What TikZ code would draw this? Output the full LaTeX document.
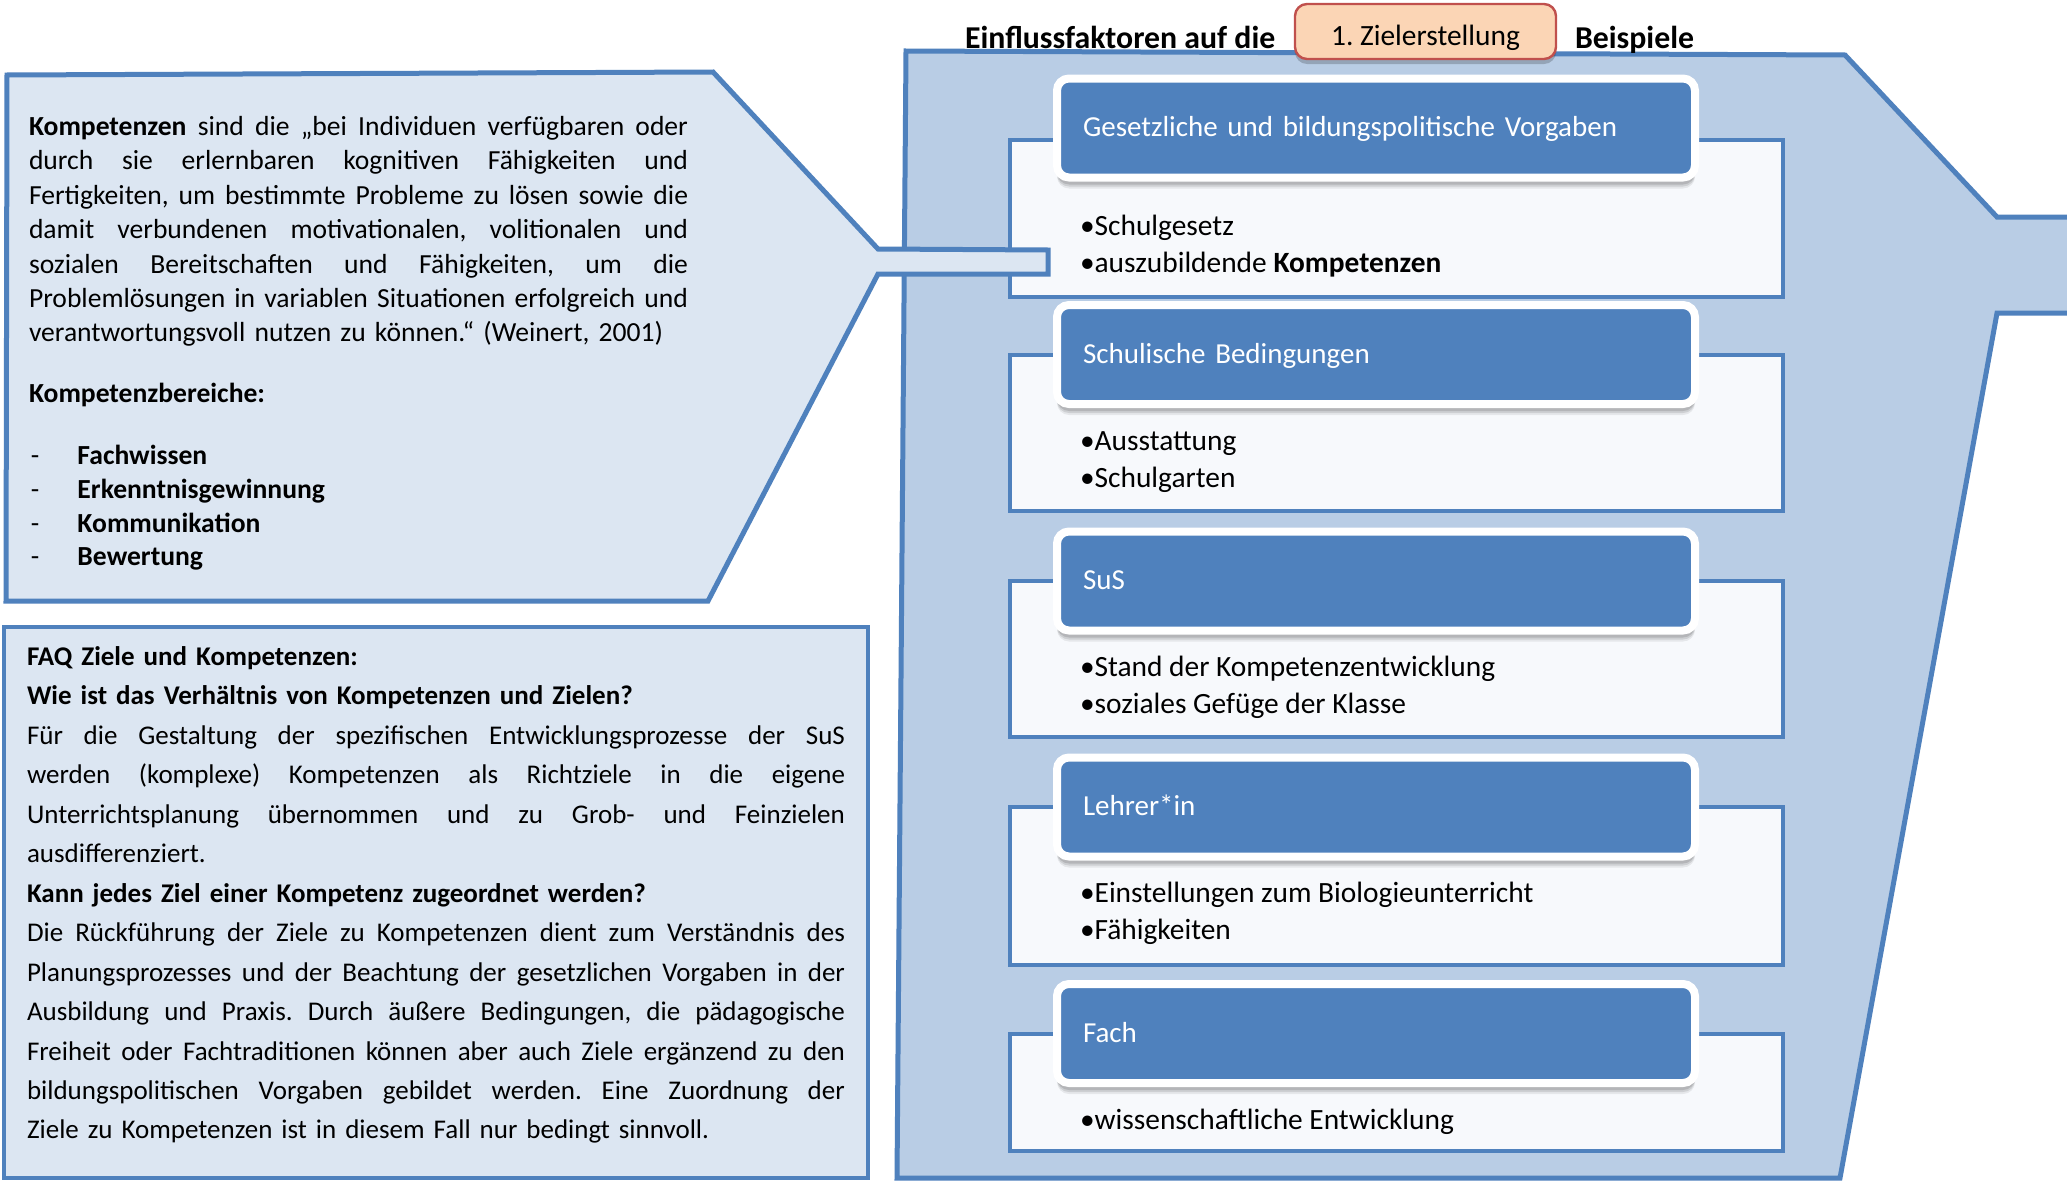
\documentclass[tikz,border=0pt]{standalone}
\usepackage{fontspec}
\setmainfont{Carlito}
\usetikzlibrary{shadows}
\definecolor{funnelfill}{HTML}{B9CDE5}
\definecolor{edgeblue}{HTML}{4F81BD}
\definecolor{calloutfill}{HTML}{DCE6F2}
\definecolor{boxfill}{HTML}{F7F9FC}
\definecolor{headblue}{HTML}{4F81BD}
\definecolor{peach}{HTML}{FBD5B5}
\definecolor{redline}{HTML}{C0504D}
\newcommand{\jl}[2]{\hbox to #1{\spaceskip=0.226em plus 1fil minus 0.05em\relax #2}\par}
\frenchspacing
\begin{document}
\begin{tikzpicture}[x=0.5pt,y=-0.5pt,
  every node/.style={inner sep=0pt, outer sep=0pt},
  funnelstyle/.style={fill=funnelfill, draw=edgeblue, line width=2.5pt},
  calloutstyle/.style={fill=calloutfill, draw=edgeblue, line width=2.5pt},
  boxstyle/.style={fill=boxfill, draw=edgeblue, line width=2.3pt, minimum width=386.5pt},
  headstyle/.style={fill=headblue, draw=white, line width=4pt, rounded corners=6pt,
     minimum width=319pt, minimum height=49.5pt, text width=293pt, inner xsep=13pt,
     align=left, text=white, font=\fontsize{14.5}{17}\selectfont,
     text height=10.5pt, text depth=2pt,
     drop shadow={shadow xshift=0pt, shadow yshift=-5.5pt, opacity=0.07, fill=black},
     drop shadow={shadow xshift=0pt, shadow yshift=-4.5pt, opacity=0.1, fill=black},
     drop shadow={shadow xshift=0pt, shadow yshift=-3.5pt, opacity=0.12, fill=black}},
  itemstyle/.style={anchor=base west, font=\fontsize{14.7}{17}\selectfont},
  titlestyle/.style={anchor=base west, font=\bfseries\fontsize{15.9}{18}\selectfont},
  zielstyle/.style={fill=peach, draw=redline, line width=1.2pt, rounded corners=6pt,
     minimum width=130.5pt, minimum height=27.5pt,
     drop shadow={shadow xshift=0pt, shadow yshift=-2.5pt, opacity=0.2, fill=black}},
  faqbox/.style={fill=calloutfill, draw=edgeblue, line width=2.2pt}
]
\path[use as bounding box, fill=white] (0,0) rectangle (2067,1183);

% funnel
\filldraw[funnelstyle] (906,51) -- (1845,55) -- (1997,217) -- (2090,217) -- (2090,313)
   -- (1997,313) -- (1840,1178) -- (897,1178) -- cycle;

% factor boxes
\node[boxstyle, minimum height=78.5pt] (b1) at (1396.5,218.5) {};
\node[boxstyle, minimum height=78pt]   (b2) at (1396.5,433) {};
\node[boxstyle, minimum height=78pt]   (b3) at (1396.5,659) {};
\node[boxstyle, minimum height=79pt]   (b4) at (1396.5,886) {};
\node[boxstyle, minimum height=58.5pt] (b5) at (1396.5,1092.5) {};

% headers
\node[headstyle] (h1) at (1376,128) {Gesetzliche und bildungspolitische Vorgaben};
\node[headstyle] (h2) at (1376,354.5) {Schulische Bedingungen};
\node[headstyle] (h3) at (1376,581) {SuS};
\node[headstyle] (h4) at (1376,807) {Lehrer*in};
\node[headstyle] (h5) at (1376,1033.5) {Fach};

% items
\node[itemstyle] (i1a) at (1080,235) {•Schulgesetz};
\node[itemstyle] (i1b) at (1080,272) {•auszubildende \textbf{Kompetenzen}};
\node[itemstyle] (i2a) at (1080,450) {•Ausstattung};
\node[itemstyle] (i2b) at (1080,487) {•Schulgarten};
\node[itemstyle] (i3a) at (1080,676) {•Stand der Kompetenzentwicklung};
\node[itemstyle] (i3b) at (1080,713) {•soziales Gefüge der Klasse};
\node[itemstyle] (i4a) at (1080,902) {•Einstellungen zum Biologieunterricht};
\node[itemstyle] (i4b) at (1080,939) {•Fähigkeiten};
\node[itemstyle] (i5a) at (1080,1129) {•wissenschaftliche Entwicklung};

% callout
\filldraw[calloutstyle] (7,75) -- (713,72) -- (878,249) -- (1048,250) -- (1048,274)
   -- (878,274) -- (708,601) -- (6,601) -- cycle;

\node[anchor=base west, text width=329.5pt, font=\fontsize{13.8}{17.2}\selectfont] (def) at (29,135.4) {%
\jl{329.5pt}{\textbf{Kompetenzen} sind die „bei Individuen verfügbaren oder}
\jl{329.5pt}{durch sie erlernbaren kognitiven Fähigkeiten und}
\jl{329.5pt}{Fertigkeiten, um bestimmte Probleme zu lösen sowie die}
\jl{329.5pt}{damit verbundenen motivationalen, volitionalen und}
\jl{329.5pt}{sozialen Bereitschaften und Fähigkeiten, um die}
\jl{329.5pt}{Problemlösungen in variablen Situationen erfolgreich und}
verantwortungsvoll nutzen zu können.“ (Weinert, 2001)};

\node[anchor=base west, font=\bfseries\fontsize{13.8}{17.2}\selectfont] (kb) at (29,402.8) {Kompetenzbereiche:};

\node[anchor=base west, text width=200pt, font=\fontsize{13.8}{16.9}\selectfont] (list) at (31,464.5) {%
\makebox[23.25pt][l]{-}\textbf{Fachwissen}\par
\makebox[23.25pt][l]{-}\textbf{Erkenntnisgewinnung}\par
\makebox[23.25pt][l]{-}\textbf{Kommunikation}\par
\makebox[23.25pt][l]{-}\textbf{Bewertung}};

% FAQ
\draw[faqbox] (4,627) rectangle (868,1178);
\node[anchor=base west, text width=409pt, font=\fontsize{13.5}{19.725}\selectfont] (faq) at (27,665.5) {%
\textbf{FAQ Ziele und Kompetenzen:}\par
\textbf{Wie ist das Verhältnis von Kompetenzen und Zielen?}\par
\jl{409pt}{Für die Gestaltung der spezifischen Entwicklungsprozesse der SuS}
\jl{409pt}{werden (komplexe) Kompetenzen als Richtziele in die eigene}
\jl{409pt}{Unterrichtsplanung übernommen und zu Grob- und Feinzielen}
ausdifferenziert.\par
\textbf{Kann jedes Ziel einer Kompetenz zugeordnet werden?}\par
\jl{409pt}{Die Rückführung der Ziele zu Kompetenzen dient zum Verständnis des}
\jl{409pt}{Planungsprozesses und der Beachtung der gesetzlichen Vorgaben in der}
\jl{409pt}{Ausbildung und Praxis. Durch äußere Bedingungen, die pädagogische}
\jl{409pt}{Freiheit oder Fachtraditionen können aber auch Ziele ergänzend zu den}
\jl{409pt}{bildungspolitischen Vorgaben gebildet werden. Eine Zuordnung der}
Ziele zu Kompetenzen ist in diesem Fall nur bedingt sinnvoll.};

% titles
\node[titlestyle] (t1) at (965,48) {Einflussfaktoren auf die};
\node[titlestyle] (t2) at (1575,48) {Beispiele};
\node[zielstyle] (ziel) at (1425.5,31.5) {};
\node[anchor=base, font=\fontsize{14.7}{17}\selectfont] (zieltext) at (1425.5,45) {1. Zielerstellung};
\end{tikzpicture}
\end{document}
